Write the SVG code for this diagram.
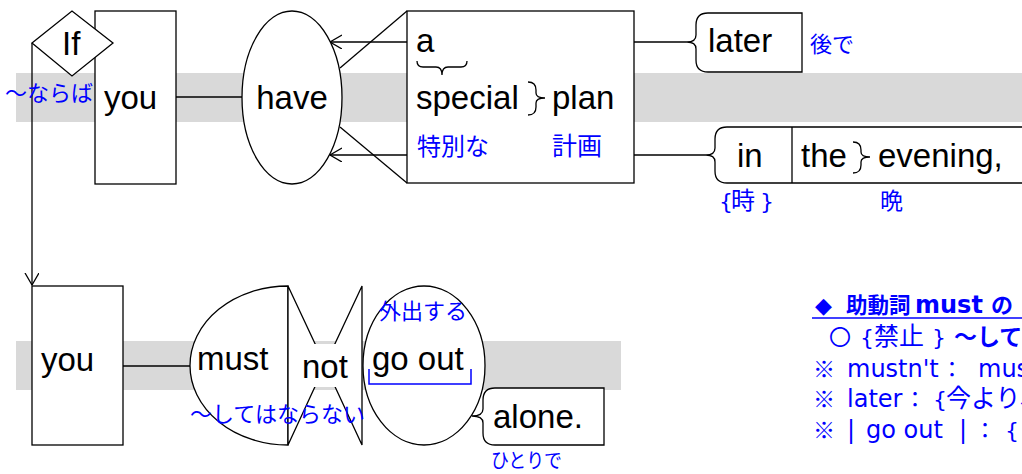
<svg xmlns="http://www.w3.org/2000/svg" width="1022" height="474" viewBox="0 0 1022 474">
<defs>
<style>
.band{fill:#d9d9d9;stroke:none}
.node{fill:#fff;stroke:#000;stroke-width:1.3}
.ln{fill:none;stroke:#000;stroke-width:1.3}
.w{font-family:"Liberation Sans",Arial,sans-serif;font-size:33px;fill:#000}
.j{font-family:"Noto Sans CJK JP","Liberation Sans",sans-serif;font-size:22px;fill:#0000ff}
.jl{font-family:"DejaVu Sans","Noto Sans CJK JP",sans-serif;font-size:22px;fill:#0000ff}
.note{font-family:"Noto Sans CJK JP","Liberation Sans",sans-serif;font-size:24px;fill:#0000ff}
.nl{font-family:"DejaVu Sans","Noto Sans CJK JP",sans-serif;font-size:24px;fill:#0000ff}
.b{font-weight:bold}
</style>
<marker id="arr" markerWidth="14" markerHeight="16" refX="12" refY="7" orient="auto" markerUnits="userSpaceOnUse">
<path d="M0,0 L12,7 L0,14" fill="none" stroke="#000" stroke-width="1.3"/>
</marker>
</defs>
<rect width="1022" height="474" fill="#fff"/>
<rect class="band" x="16" y="73" width="1006" height="49"/>
<rect class="band" x="16" y="341" width="605" height="49"/>

<g id="connectors">
<line class="ln" x1="32" y1="43" x2="32" y2="285" marker-end="url(#arr)"/>
<line class="ln" x1="176" y1="97" x2="242" y2="97"/>
<line class="ln" x1="407" y1="42" x2="330" y2="42" marker-end="url(#arr)"/>
<line class="ln" x1="407" y1="155" x2="330" y2="155" marker-end="url(#arr)"/>
<line class="ln" x1="407" y1="11" x2="340" y2="68"/>
<line class="ln" x1="407" y1="183" x2="340" y2="127"/>
<line class="ln" x1="634" y1="42" x2="687" y2="42"/>
<line class="ln" x1="634" y1="155" x2="706" y2="155"/>
<line class="ln" x1="123" y1="366" x2="190" y2="366"/>
</g>

<g id="n-you1">
<rect class="node" x="95" y="11" width="81" height="173"/>
<text class="w" x="104" y="109">you</text>
</g>
<g id="n-if">
<polygon class="node" points="32,43 72,11 113,43 72,76"/>
<text class="w" x="62" y="55">If</text>
</g>
<text class="j" x="5" y="101">～ならば</text>

<g id="n-have">
<ellipse class="node" cx="292" cy="97.5" rx="50" ry="86.5"/>
<text class="w" x="292" y="109" text-anchor="middle">have</text>
</g>

<g id="n-plan">
<rect class="node" x="407" y="11" width="227" height="172"/>
<text class="w" x="416" y="52">a</text>
<path class="ln" d="M417,61 Q417,67 423,67 H436 Q442,67 442,75 Q442,67 448,67 H461 Q467,67 467,61" stroke-width="1.1"/>
<text class="w" x="416" y="109">special</text>
<path class="ln" d="M528,82 Q536,82 536,90 V93 Q536,98 545,98 Q536,98 536,103 V107 Q536,115 528,115" stroke-width="1.1"/>
<text class="w" x="552" y="109">plan</text>
<text class="j" x="417" y="155" style="font-size:24px">特別な</text>
<text class="j" x="552" y="155" style="font-size:25px">計画</text>
</g>

<g id="n-later">
<path class="node" d="M802,13 H708 Q696,13 696,25 V35 Q696,42 687,42 Q696,42 696,49 V60 Q696,72 708,72 H802 Z"/>
<text class="w" x="708" y="52">later</text>
<text class="j" x="810" y="52">後で</text>
</g>

<g id="n-evening">
<path class="node" d="M1030,127 H727 Q715,127 715,139 V148 Q715,155 706,155 Q715,155 715,162 V171 Q715,183 727,183 H1030 Z"/>
<line class="ln" x1="792" y1="127" x2="792" y2="183"/>
<text class="w" x="737" y="167">in</text>
<text class="w" x="801" y="167">the</text>
<path class="ln" d="M853,142 Q861,142 861,150 V152 Q861,157 870,157 Q861,157 861,162 V165 Q861,173 853,173" stroke-width="1.1"/>
<text class="w" x="878" y="167">evening,</text>
<text class="jl" y="209"><tspan x="719">{</tspan><tspan x="731" font-family="Noto Sans CJK JP" font-size="24">時</tspan><tspan x="760">}</tspan></text>
<text class="j" x="880" y="209" style="font-size:23px">晩</text>
</g>

<g id="n-you2">
<rect class="node" x="32" y="286" width="91" height="159"/>
<text class="w" x="41" y="371">you</text>
</g>

<g id="n-must">
<path class="node" d="M288,286 A98,79.5 0 0 0 288,445 Z"/>
<text class="w" x="197" y="370">must</text>
</g>

<g id="n-not">
<polygon class="node" points="288,286 325,365 288,445"/>
<polygon class="node" points="362,286 325,365 362,445"/>
<rect x="297" y="344" width="57" height="43" fill="#fff"/>
<text class="w" x="302" y="378">not</text>
</g>
<text class="j" x="190" y="422">～してはならない</text>

<g id="n-goout">
<ellipse class="node" cx="424" cy="365.5" rx="61" ry="79.5"/>
<text class="w" x="372" y="370">go out</text>
<path d="M369,369 V384 H471 V369" fill="none" stroke="#0000ff" stroke-width="1.5"/>
<text class="j" x="379" y="319">外出する</text>
</g>

<g id="n-alone">
<path class="node" d="M604,388 H495 Q483,388 483,400 V409 Q483,416 472,416 Q483,416 483,423 V433 Q483,445 495,445 H604 Z"/>
<text class="w" x="493" y="428">alone.</text>
<text class="j" x="491" y="468" style="font-size:20px" textLength="71" lengthAdjust="spacingAndGlyphs">ひとりで</text>
</g>

<g id="notes">
<text class="nl b" y="313"><tspan x="815" font-size="22">◆</tspan><tspan x="846" font-family="Noto Sans CJK JP" font-size="21.5">助動詞</tspan><tspan x="915">must</tspan><tspan x="991" font-family="Noto Sans CJK JP" font-size="22">の</tspan></text>
<line x1="812" y1="318" x2="1022" y2="318" stroke="#0000ff" stroke-width="1.5"/>
<text class="note" y="345"><tspan x="829" font-size="22">〇</tspan><tspan x="860" font-family="DejaVu Sans" font-size="22">{</tspan><tspan x="874" font-size="25">禁止</tspan><tspan x="932" font-family="DejaVu Sans" font-size="22">}</tspan><tspan x="954" font-weight="bold" font-size="23">～して</tspan></text>
<text class="nl" y="377"><tspan x="813" font-family="Noto Sans CJK JP" font-size="22">※</tspan><tspan x="847">mustn't</tspan><tspan x="941" font-family="Noto Sans CJK JP" font-size="22">：</tspan><tspan x="978">mus</tspan></text>
<text class="nl" y="407"><tspan x="813" font-family="Noto Sans CJK JP" font-size="22">※</tspan><tspan x="847">later</tspan><tspan x="904" font-family="Noto Sans CJK JP" font-size="22">：</tspan><tspan x="933" font-size="22">{</tspan><tspan x="946" font-family="Noto Sans CJK JP" font-size="25">今より、</tspan></text>
<text class="nl" y="438"><tspan x="813" font-family="Noto Sans CJK JP" font-size="22">※</tspan><tspan x="847">|</tspan><tspan x="866">go out</tspan><tspan x="959">|</tspan><tspan x="974" font-family="Noto Sans CJK JP" font-size="22">：</tspan><tspan x="1005" font-size="22">{</tspan></text>
</g>
</svg>
